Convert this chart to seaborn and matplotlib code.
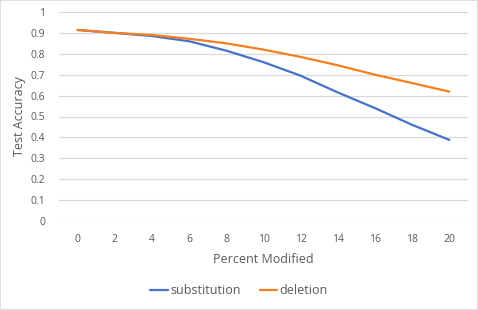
import numpy as np
import pandas as pd
import matplotlib
matplotlib.use("Agg")
import matplotlib.pyplot as plt
import seaborn as sns
from matplotlib.ticker import FuncFormatter

# Values
percent = [0, 2, 4, 6, 8, 10, 12, 14, 16, 18, 20]
substitution = [0.914, 0.900, 0.885, 0.860, 0.815, 0.760, 0.695, 0.615, 0.540, 0.460, 0.388]
deletion = [0.914, 0.900, 0.890, 0.872, 0.850, 0.820, 0.785, 0.745, 0.700, 0.660, 0.619]
series = ["substitution", "deletion"]
colors = ["#4472C4", "#F57F1F"]

df = pd.DataFrame({
    "Percent Modified": percent * 2,
    "Test Accuracy": substitution + deletion,
    "series": [series[0]] * len(percent) + [series[1]] * len(percent),
})

sns.set_style("white")
plt.rcParams["font.family"] = ["Open Sans", "DejaVu Sans"]

fig = plt.figure(figsize=(4.78, 3.10), dpi=100)
ax = fig.add_axes([59 / 478, 1 - 221 / 310, 409 / 478, 209 / 310])

sns.lineplot(data=df, x="Percent Modified", y="Test Accuracy", hue="series",
             palette=colors, linewidth=1.6, ax=ax, legend=False)

ax.set_xlim(-1, 21)
ax.set_ylim(0, 1)
ax.set_xticks(percent)
ax.set_yticks(np.arange(0, 1.01, 0.1))
ax.yaxis.set_major_formatter(FuncFormatter(lambda v, p: f"{v:g}"))
ax.grid(axis="y", color="#D9D9D9", linewidth=0.9)
ax.set_axisbelow(True)
for s in ax.spines.values():
    s.set_visible(False)
ax.tick_params(axis="both", length=0, labelsize=7.5, colors="#595959")
ax.tick_params(axis="x", pad=9)
ax.tick_params(axis="y", pad=10)
ax.set_xlabel("Percent Modified", fontsize=9, color="#595959", labelpad=6)
ax.set_ylabel("Test Accuracy", fontsize=9, color="#595959", labelpad=3)

handles = [plt.Line2D([], [], color=c, linewidth=1.6) for c in colors]
fig.legend(handles, series, loc="center", bbox_to_anchor=(0.5, 1 - 291 / 310), ncol=2,
           frameon=False, fontsize=9, handlelength=1.4, handletextpad=0.2,
           columnspacing=1.5, labelcolor="#595959")

fig.patches.append(plt.Rectangle((0, 0), 1, 1, transform=fig.transFigure, fill=False,
                                 edgecolor="#D9D9D9", linewidth=1.2))

fig.savefig("out.png", dpi=100)
